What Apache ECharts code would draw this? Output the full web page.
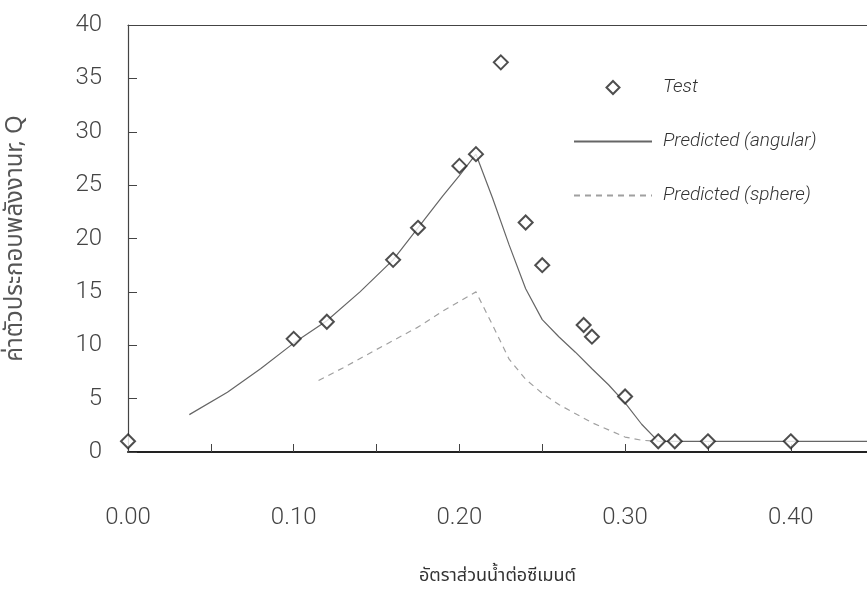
<!DOCTYPE html>
<html>
<head>
<meta charset="utf-8">
<script src="https://cdn.jsdelivr.net/npm/echarts@6/dist/echarts.min.js"></script>
<style>
  html, body { margin: 0; padding: 0; background: #fff; }
  #chart { width: 867px; height: 603px; }
</style>
</head>
<body>
<div id="chart"></div>
<script>
// Measured impact energy factor Q against water/cement ratio
const testRatio = [0.00, 0.10, 0.12, 0.16, 0.175, 0.20, 0.21, 0.225, 0.24, 0.25, 0.275, 0.28, 0.30, 0.32, 0.33, 0.35, 0.40];
const testQ     = [1.0, 10.6, 12.2, 18.0, 21.0, 26.8, 27.9, 36.5, 21.5, 17.5, 11.9, 10.8, 5.2, 1.0, 1.0, 1.0, 1.0];

// Model curve, angular particles
const angularRatio = [0.037, 0.06, 0.08, 0.10, 0.12, 0.14, 0.16, 0.175, 0.19, 0.20, 0.21, 0.22, 0.23, 0.24, 0.25, 0.26, 0.27, 0.28, 0.29, 0.30, 0.31, 0.32, 0.45];
const angularQ     = [3.5, 5.6, 7.8, 10.2, 12.3, 15.0, 18.0, 21.0, 24.0, 25.9, 27.9, 23.8, 19.4, 15.3, 12.4, 10.8, 9.35, 7.8, 6.3, 4.6, 2.6, 1.0, 1.0];

// Model curve, spherical particles
const sphereRatio = [0.115, 0.13, 0.15, 0.175, 0.19, 0.21, 0.22, 0.23, 0.24, 0.25, 0.26, 0.28, 0.30, 0.31, 0.32];
const sphereQ     = [6.7, 7.9, 9.6, 11.7, 13.2, 15.0, 11.9, 8.7, 6.8, 5.5, 4.45, 2.75, 1.4, 1.1, 1.0];

// Axis titles and series names
const xTitle = 'อัตราส่วนน้ำต่อซีเมนต์';
const yTitle = 'ค่าตัวประกอบพลังงานr, Q';
const seriesNames = ['Test', 'Predicted (angular)', 'Predicted (sphere)'];

const zip = (xs, ys) => xs.map((x, i) => [x, ys[i]]);

const numFont = 'Roboto, "Liberation Sans", sans-serif';
const thaiFont = '"Noto Sans Thai", Loma, Garuda, "DejaVu Sans", sans-serif';

// x range runs out to the right edge of the canvas
const X_MIN = 0, X_MAX = 0.446;

const hiddenSymbol = { color: 'rgba(0,0,0,0)', borderWidth: 0, opacity: 0 };

const chart = echarts.init(document.getElementById('chart'), null, { renderer: 'canvas' });
chart.setOption({
  backgroundColor: '#ffffff',
  animation: false,
  grid: {
    left: 128, top: 25, right: 0, bottom: 151,
    show: false, containLabel: false, outerBoundsMode: 'none'
  },
  legend: {
    orient: 'vertical',
    left: 568, top: 73,
    itemWidth: 78, itemHeight: 13,
    itemGap: 35,
    symbolKeepAspect: true,
    data: [
      { name: seriesNames[0], icon: 'path://M6.5,0 L13,6.5 L6.5,13 L0,6.5 Z' },
      { name: seriesNames[1], itemStyle: hiddenSymbol },
      { name: seriesNames[2], itemStyle: hiddenSymbol }
    ],
    textStyle: { fontFamily: numFont, fontStyle: 'italic', fontWeight: 300, fontSize: 19, color: '#333', padding: [0, 0, 0, 6] }
  },
  xAxis: [
    {
      type: 'value', min: X_MIN, max: X_MAX, interval: 0.05,
      name: xTitle, nameLocation: 'middle', nameGap: 116,
      nameTextStyle: { fontFamily: thaiFont, fontSize: 18, color: '#333' },
      axisLine: { lineStyle: { color: '#222', width: 2 } },
      axisTick: { inside: true, length: 8, lineStyle: { color: '#444', width: 1 } },
      splitLine: { show: false },
      axisLabel: {
        margin: 54, fontFamily: numFont, fontWeight: 300, fontSize: 24, color: '#444',
        showMaxLabel: false,
        formatter: v => (Math.round(v * 100) % 10 === 0 ? v.toFixed(2) : '')
      }
    },
    {
      // top frame line
      type: 'value', position: 'top', min: X_MIN, max: X_MAX,
      axisLine: { show: true, lineStyle: { color: '#444', width: 1.2 } },
      axisTick: { show: false }, axisLabel: { show: false }, splitLine: { show: false }
    }
  ],
  yAxis: {
    type: 'value', min: 0, max: 40, interval: 5,
    name: yTitle, nameLocation: 'middle', nameGap: 99, nameRotate: 90,
    nameTextStyle: { fontFamily: thaiFont, fontSize: 24, color: '#555' },
    axisLine: { lineStyle: { color: '#444', width: 1.2 } },
    axisTick: { inside: true, length: 9, lineStyle: { color: '#444', width: 1 } },
    splitLine: { show: false },
    axisLabel: { margin: 26, fontFamily: numFont, fontWeight: 300, fontSize: 24, color: '#444' }
  },
  series: [
    {
      name: seriesNames[1], type: 'line', data: zip(angularRatio, angularQ),
      symbol: 'none', smooth: false,
      lineStyle: { color: '#666', width: 1.2 }, itemStyle: { color: '#666' }, z: 2
    },
    {
      name: seriesNames[2], type: 'line', data: zip(sphereRatio, sphereQ),
      symbol: 'none', smooth: false,
      lineStyle: { color: '#a0a0a0', width: 1.2, type: [6, 5] }, itemStyle: { color: '#a0a0a0' }, z: 2
    },
    {
      name: seriesNames[0], type: 'scatter', data: zip(testRatio, testQ),
      symbol: 'diamond', symbolSize: 14,
      itemStyle: { color: '#ffffff', borderColor: '#222', borderWidth: 2 }, z: 5
    }
  ]
});
</script>
</body>
</html>
